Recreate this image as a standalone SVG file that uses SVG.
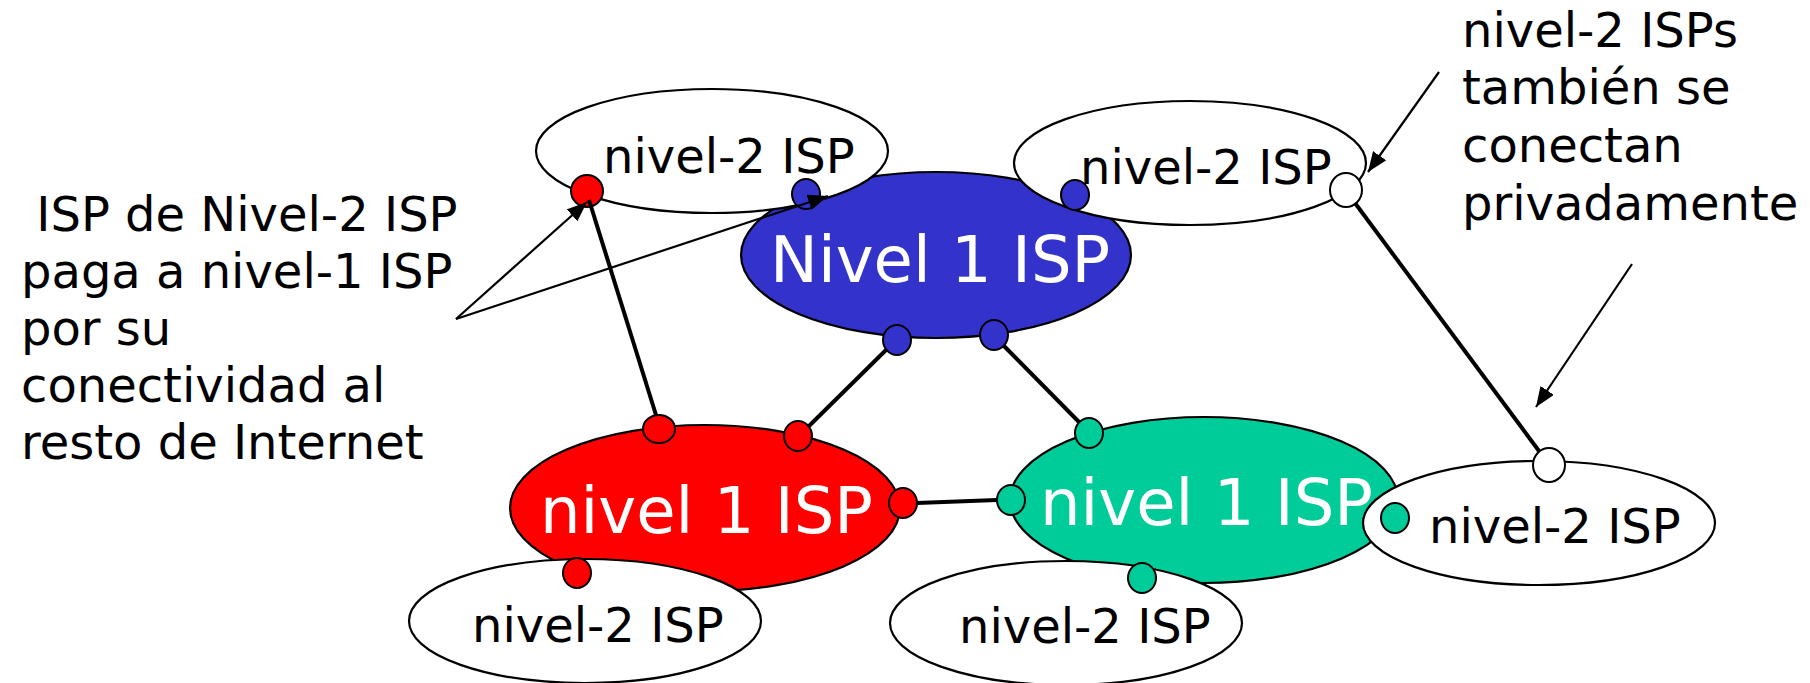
<svg xmlns="http://www.w3.org/2000/svg" width="1810" height="683" viewBox="0 0 1810 683">
<style>
text{font-family:"DejaVu Sans","Liberation Sans",sans-serif;font-size:48px;fill:#000}
.big{font-size:64px;fill:#fff}
.cloud{stroke:#000;stroke-width:2.2}
.t2{fill:#fff}
.port{stroke:#000;stroke-width:2}
.link{stroke:#000;stroke-width:4;fill:none}
.ann{stroke:#000;stroke-width:2.2;fill:none}
</style>
<defs>
<marker id="ah" markerUnits="userSpaceOnUse" markerWidth="22" markerHeight="18" refX="20" refY="8" orient="auto">
<path d="M0,0 L20,8 L0,16 Z" fill="#000"/>
</marker>
</defs>
<rect width="1810" height="683" fill="#fff"/>
<g id="tier1-blue">
<ellipse class="cloud" cx="936" cy="255" rx="195" ry="83" fill="#3333cc"/>
<text class="big" x="770" y="282">Nivel 1 ISP</text>
</g>
<g id="tier1-red">
<ellipse class="cloud" cx="705" cy="508" rx="195" ry="83" fill="#ff0000"/>
<text class="big" x="540" y="533">nivel 1 ISP</text>
</g>
<g id="tier1-green">
<ellipse class="cloud" cx="1204" cy="500" rx="194" ry="83" fill="#00cc99"/>
<text class="big" x="1040" y="525">nivel 1 ISP</text>
</g>
<g id="tier2-topleft">
<ellipse class="cloud t2" cx="712" cy="151" rx="176" ry="62"/>
<text x="603" y="173">nivel-2 ISP</text>
</g>
<g id="tier2-topright">
<ellipse class="cloud t2" cx="1190" cy="163" rx="176" ry="62"/>
<text x="1080" y="184">nivel-2 ISP</text>
</g>
<g id="tier2-bottomleft">
<ellipse class="cloud t2" cx="585" cy="621" rx="176" ry="62"/>
<text x="472" y="642">nivel-2 ISP</text>
</g>
<g id="tier2-bottomcenter">
<ellipse class="cloud t2" cx="1066" cy="623" rx="176" ry="62"/>
<text x="959" y="643">nivel-2 ISP</text>
</g>
<g id="tier2-right">
<ellipse class="cloud t2" cx="1539" cy="523" rx="176" ry="62"/>
<text x="1429" y="543">nivel-2 ISP</text>
</g>
<g id="ports">
<ellipse class="port" cx="587" cy="191" rx="16" ry="16" fill="#ff0000"/>
<ellipse class="port" cx="806" cy="194" rx="14" ry="15" fill="#3333cc"/>
<ellipse class="port" cx="1075" cy="195" rx="14" ry="15" fill="#3333cc"/>
<ellipse class="port" cx="897" cy="340" rx="14" ry="15" fill="#3333cc"/>
<ellipse class="port" cx="994" cy="335" rx="14" ry="15" fill="#3333cc"/>
<ellipse class="port" cx="659" cy="429" rx="16" ry="14" fill="#ff0000"/>
<ellipse class="port" cx="798" cy="436" rx="14" ry="15" fill="#ff0000"/>
<ellipse class="port" cx="903" cy="503" rx="14" ry="15" fill="#ff0000"/>
<ellipse class="port" cx="1011" cy="500" rx="14" ry="15" fill="#00cc99"/>
<ellipse class="port" cx="1089" cy="433" rx="14" ry="15" fill="#00cc99"/>
<ellipse class="port" cx="577" cy="573" rx="14" ry="15" fill="#ff0000"/>
<ellipse class="port" cx="1142" cy="578" rx="14" ry="15" fill="#00cc99"/>
<ellipse class="port" cx="1395" cy="518" rx="14" ry="15" fill="#00cc99"/>
<ellipse class="port" cx="1346" cy="190" rx="16" ry="17" fill="#fff"/>
<ellipse class="port" cx="1549" cy="465" rx="16" ry="17" fill="#fff"/>
</g>
<g id="connectors">
<line class="link" x1="589" y1="200" x2="656" y2="415"/>
<line class="link" x1="886" y1="350" x2="809" y2="426"/>
<line class="link" x1="1004" y1="346" x2="1079" y2="422"/>
<line class="link" x1="917" y1="503" x2="997" y2="500"/>
<line class="link" x1="1355" y1="203" x2="1539" y2="451"/>
<line class="ann" x1="456" y1="319" x2="587" y2="202" marker-end="url(#ah)"/>
<line class="ann" x1="456" y1="319" x2="828" y2="196" marker-end="url(#ah)"/>
<line class="ann" x1="1439" y1="72" x2="1368" y2="172" marker-end="url(#ah)"/>
<line class="ann" x1="1632" y1="264" x2="1536" y2="407" marker-end="url(#ah)"/>
</g>
<g id="note-left">
<text x="21" y="231" xml:space="preserve"> ISP de Nivel-2 ISP</text>
<text x="21" y="288">paga a nivel-1 ISP</text>
<text x="21" y="345">por su</text>
<text x="21" y="402">conectividad al</text>
<text x="21" y="459">resto de Internet</text>
</g>
<g id="note-right">
<text x="1462" y="47">nivel-2 ISPs</text>
<text x="1462" y="104">también se</text>
<text x="1462" y="162">conectan</text>
<text x="1462" y="220">privadamente</text>
</g>
</svg>
